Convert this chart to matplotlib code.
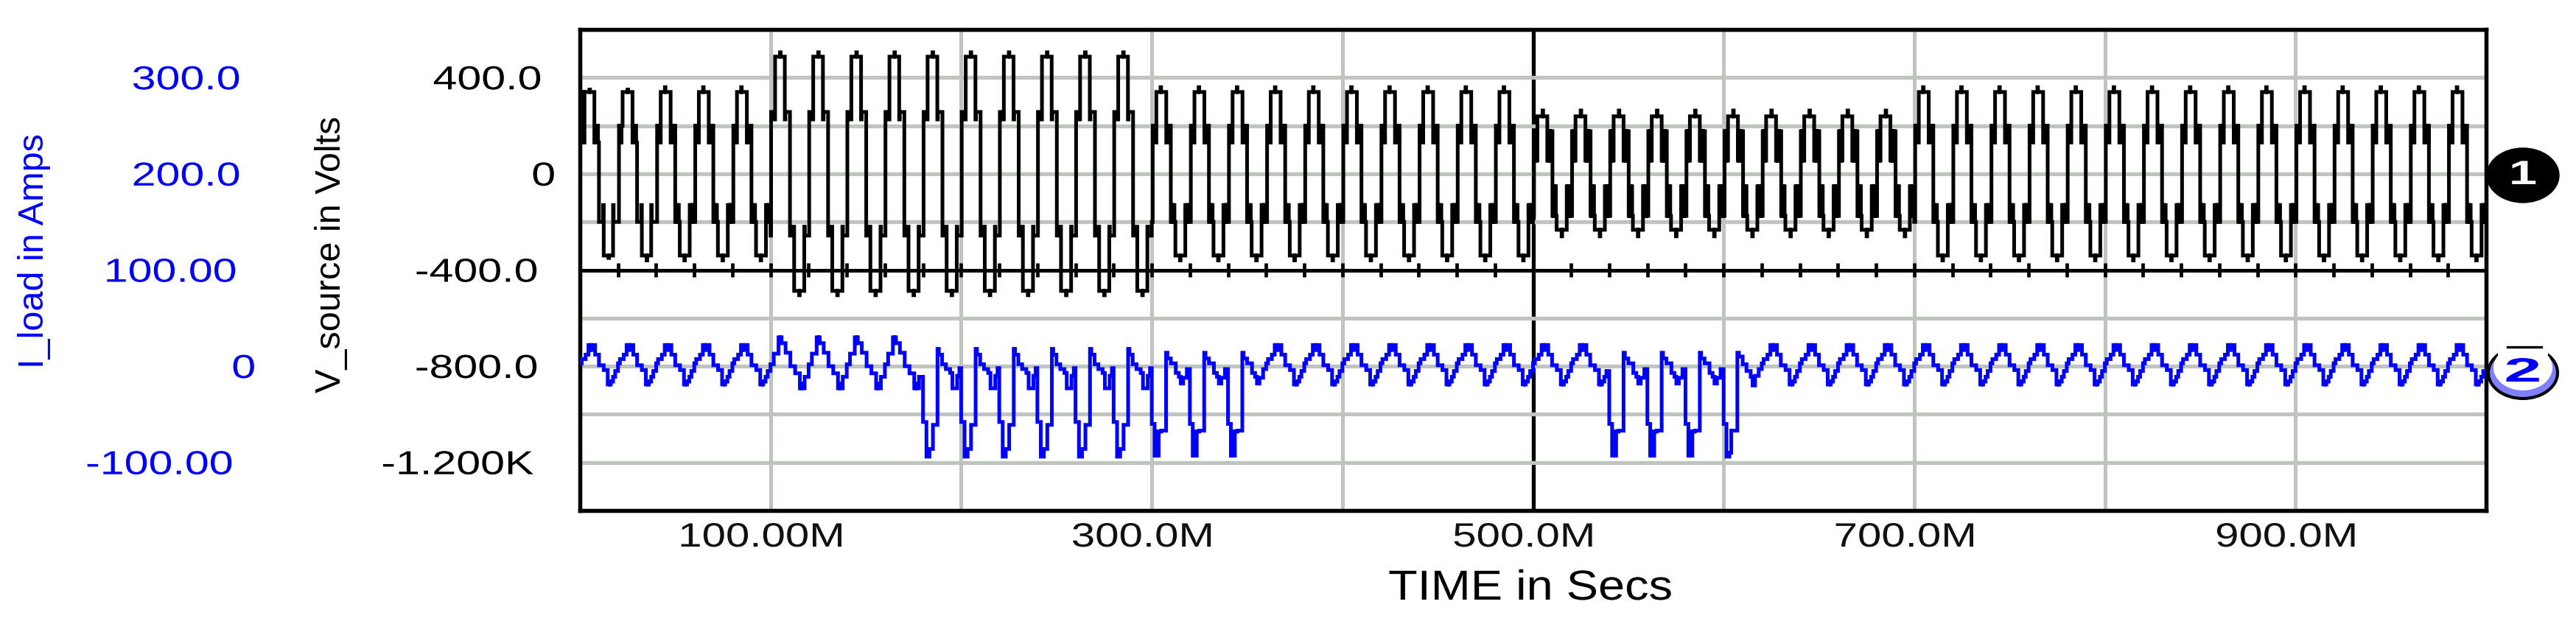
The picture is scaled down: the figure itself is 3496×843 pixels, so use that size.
import matplotlib
matplotlib.use('Agg')
import matplotlib.pyplot as plt
import matplotlib.patheffects as pe
import matplotlib.transforms as mtrans
from matplotlib.patches import Ellipse, Rectangle
import numpy as np

W, H = 3496, 843
plt.rcParams['font.family'] = ['Liberation Sans', 'DejaVu Sans']

### one mains cycle of each waveform (ms into the cycle) ###
v_normal_t = [0.0, 0.5, 0.9, 1.2, 1.5, 1.8, 2.1, 2.4, 4.6, 4.9, 7.6, 7.9, 8.2, 8.5, 8.8, 9.1, 9.4, 9.7, 10.0,
              10.4, 10.7, 11.0, 11.3, 11.6, 11.9, 12.4, 14.8, 15.1, 17.6, 17.9, 18.2, 18.5, 18.8, 19.1, 19.4, 19.7]
v_normal_v = [-200, 200, 130, 200, 130, 200, 130, 340, 360, 340, 130, 200, 130, 200, 130, 200, 130, 200, -200,
              -130, -200, -130, -200, -130, -200, -340, -360, -340, -130, -200, -130, -200, -130, -200, -130, -200]
v_thin_t = [0.0, 0.5, 0.9, 1.2, 1.5, 1.8, 2.4, 5.0, 5.3, 7.6, 7.9, 8.2, 8.5, 8.8, 9.1, 9.5, 10.0,
            12.2, 12.5, 15.0, 15.3, 17.4, 17.7]
v_thin_v = [-200, 200, 130, 200, 130, 200, 340, 350, 340, 130, 200, 130, 200, 130, 200, 130, -200,
            -130, -340, -360, -340, -130, -200]
v_start_t = [0.0, 0.5, 1.0, 1.5, 2.0, 2.4, 5.0, 5.3, 7.6, 7.9, 8.2, 8.5, 8.8, 9.1, 9.5, 10.0,
             12.2, 12.5, 15.0, 15.3, 17.4, 17.7]
v_start_v = [130, 340, 130, 340, 130, 340, 350, 340, 130, 200, 130, 200, 130, 200, 130, -200,
             -130, -340, -350, -340, -130, -200]
v_swell_t = [0.0, 0.3, 2.1, 2.4, 5.0, 5.3, 7.5, 7.8, 10.2, 12.1, 12.4, 15.0, 15.3, 17.7, 18.0]
v_swell_v = [-257, 257, 226, 487, 505, 487, 226, 257, -257, -220, -487, -505, -487, -220, -257]
v_sag_t = [0.0, 0.5, 0.8, 1.1, 1.4, 1.7, 2.0, 2.3, 5.0, 5.3, 7.5, 7.8, 8.1, 8.4, 8.7, 9.0, 9.3, 9.6, 10.2,
           10.5, 10.8, 11.1, 11.4, 11.7, 12.0, 12.4, 15.0, 15.3, 17.7, 18.0, 18.3, 18.6, 18.9, 19.2, 19.5]
v_sag_v = [-175, 177, 55, 177, 55, 177, 55, 239, 263, 239, 55, 177, 55, 177, 55, 177, 55, 177, -175,
           -52, -175, -52, -175, -52, -175, -233, -260, -233, -52, -175, -52, -175, -52, -175, -52]

i_normal_t = [0.0, 1.0, 3.0, 4.5, 5.2, 5.6, 6.0, 6.4, 8.0, 10.0, 12.5, 14.6, 15.4, 15.8, 16.2, 17.4, 18.5]
i_normal_v = [3, 7.4, 12, 22, 17, 22, 17, 22, 12, 1, -4, -19, -16, -19, -16, -11, -5]
i_swell_t = [0.0, 1.7, 4.2, 5.0, 5.4, 5.8, 7.9, 10.4, 12.9, 15.4, 16.2, 16.6, 17.9]
i_swell_v = [2, 13, 30, 24, 30, 24, 14, 0, -7.4, -23, -18, -23, -11]
i_fault_t = [0.0, 1.5, 1.8, 2.1, 2.4, 2.7, 3.0, 3.3, 3.6, 4.9, 7.5, 8.2, 10.0, 12.6, 14.2, 15.2, 15.8, 16.2, 16.5, 18.4]
i_fault_v = [-60, -93, -68, -93, -68, -93, -68, -93, -68, -67, 14, 8, 3, -7, -11, -18, -14, -18, -12, -3]
i_fault_thin_t = [0.0, 1.5, 3.0, 4.0, 7.2, 8.0, 10.0, 12.0, 14.2, 15.2, 16.5, 18.4]
i_fault_thin_v = [-60, -94, -90, -67, 14, 10, 2, -5, -11, -20, -10, -3]
i_fault_swell_t = [0.0, 1.8, 3.4, 5.2, 7.6, 8.3, 10.0, 12.0, 14.2, 15.4, 17.9, 19.1]
i_fault_swell_v = [-58, -94, -86, -61, 18, 12, 2, -3, -7, -23, -10, -2]

# which shape each of the 50 cycles has, 0..1000 in 20 ms steps
v_cycles = 'bt' + 'nnn' + 's' * 10 + 'n' * 10 + 'g' * 10 + 'n' * 15
i_cycles = 'a' * 5 + 's' * 4 + 'w' * 6 + 'fff' + 'a' * 9 + 'fff' + 'h' + 'a' * 19

v_shapes = {'n': (v_normal_t, v_normal_v), 't': (v_thin_t, v_thin_v), 'b': (v_start_t, v_start_v),
            's': (v_swell_t, v_swell_v), 'g': (v_sag_t, v_sag_v)}
i_shapes = {'a': (i_normal_t, i_normal_v), 's': (i_swell_t, i_swell_v), 'f': (i_fault_t, i_fault_v),
            'h': (i_fault_thin_t, i_fault_thin_v), 'w': (i_fault_swell_t, i_fault_swell_v)}

v_ticks = [400, 0, -400, -800, -1200]
v_tick_labels = ['400.0', '0', '-400.0', '-800.0', '-1.200K']
i_ticks = [300, 200, 100, 0, -100]
i_tick_labels = ['300.0', '200.0', '100.00', '0', '-100.00']
x_ticks = [100, 300, 500, 700, 900]
x_tick_labels = ['100.00M', '300.0M', '500.0M', '700.0M', '900.0M']

GRID = '#bfc5be'
BLUE = '#0000ff'
lw_frame = 3.8
lw_trace = 3.6


class Stretch(pe.AbstractPathEffect):
    # the original is a screenshot pulled out of shape, so its text is wider than tall
    def __init__(self, sx, sy=1.0):
        super().__init__()
        self.sx, self.sy = sx, sy
        self.anchor = (0, 0)

    def draw_path(self, renderer, gc, tpath, affine, rgbFace=None):
        x0, y0 = self.anchor
        a = affine + mtrans.Affine2D().translate(-x0, -y0).scale(self.sx, self.sy).translate(x0, y0)
        renderer.draw_path(gc, tpath, a, rgbFace)


def stretched(txt, x, y, sx, sy=1.0):
    # x, y are display pixels of the text's anchor point
    eff = Stretch(sx, sy)
    eff.anchor = (x, y)
    txt.set_path_effects([eff])
    return txt


def build(cycles, shapes, period=20):
    ts, vs = [], []
    for n, code in enumerate(cycles):
        t, v = shapes[code]
        ts.extend(n * period + np.array(t))
        vs.extend(v)
    ts.append(len(cycles) * period)
    vs.append(vs[-1])
    return ts, vs


fig = plt.figure(figsize=(W / 100, H / 100), dpi=100)
ax = fig.add_axes([787 / W, 1 - 693 / H, (3374 - 787) / W, (693 - 40) / H])
ax.set_xlim(0, 1000)
ax.set_ylim(-1400, 600)
ax.set_xticks([])
ax.set_yticks([])

# grid: verticals below, horizontals over them
for x in range(100, 1000, 100):
    ax.axvline(x, color='black' if x == 500 else GRID, lw=3.8 if x == 500 else 3.6, zorder=1)
for y in [400, 200, 0, -200, -600, -800, -1000, -1200]:
    ax.axhline(y, color=GRID, lw=3.8, zorder=1.5)

ax.axhline(-400, color='black', lw=3.6, zorder=2)
ax.vlines(np.arange(20, 1000, 20), -430, -370, color='black', lw=3.4, zorder=2)

vt, vv = build(v_cycles, v_shapes)
ax.step(vt, vv, where='post', color='black', lw=lw_trace, solid_joinstyle='miter', zorder=3)

ax2 = ax.twinx()
ax2.set_ylim(-150, 350)
ax2.set_yticks([])
it, iv = build(i_cycles, i_shapes)
ax2.step(it, iv, where='post', color=BLUE, lw=lw_trace, solid_joinstyle='miter', zorder=3)

for a in (ax, ax2):
    for s in a.spines.values():
        s.set_linewidth(lw_frame)

# tick labels sit at their own offsets in the original
tr_v = mtrans.blended_transform_factory(fig.transFigure, ax.transData)
tr_i = mtrans.blended_transform_factory(fig.transFigure, ax2.transData)
v_right = [735, 754, 730, 730, 724]
i_right = [326, 326, 321, 347, 316]
for y, s, r in zip(v_ticks, v_tick_labels, v_right):
    t = fig.text(r / W, y, s, transform=tr_v, ha='right', va='center_baseline', fontsize=32.5, color='black')
    stretched(t, r, tr_v.transform((0, y))[1], 1.31)
for y, s, r in zip(i_ticks, i_tick_labels, i_right):
    t = fig.text(r / W, y, s, transform=tr_i, ha='right', va='center_baseline', fontsize=32.5, color=BLUE)
    stretched(t, r, tr_i.transform((0, y))[1], 1.31)

tr_x = mtrans.blended_transform_factory(ax.transData, fig.transFigure)
for x, s in zip(x_ticks, x_tick_labels):
    t = fig.text(x - 4.7, 1 - 742 / H, s, transform=tr_x, ha='center', va='baseline', fontsize=33, color='#111111')
    stretched(t, tr_x.transform((x - 4.7, 0))[0], H - 742, 1.27)

t = fig.text(2077 / W, 1 - 814 / H, 'TIME in Secs', ha='center', va='baseline', fontsize=41, color='black')
stretched(t, 2077, H - 814, 1.14)
fig.text(47 / W, 1 - 341 / H, 'I_load in Amps', rotation=90, ha='center', va='center', fontsize=35, color=BLUE)
fig.text(450 / W, 1 - 345 / H, 'V_source in Volts', rotation=90, ha='center', va='center', fontsize=35, color='black')

# trace markers at the right edge
overlay = fig.add_axes([0, 0, 1, 1], facecolor='none')
overlay.set_xlim(0, W)
overlay.set_ylim(H, 0)
overlay.axis('off')
overlay.add_patch(Ellipse((3424, 238), 98, 74, fc='black', ec='black'))
t = overlay.text(3424, 238, '1', ha='center', va='center', fontsize=33, fontweight='bold', color='white')
stretched(t, 3424, H - 238, 1.5)
overlay.add_patch(Ellipse((3424, 506), 94, 70, fc='#8080ff', ec='black', lw=3))
overlay.add_patch(Ellipse((3424, 499), 80, 62, fc='white', ec='none'))
overlay.add_patch(Rectangle((3390, 466), 68, 16, fc='white', ec='none'))
overlay.plot([3403, 3449], [471, 471], color='black', lw=2.4)
t = overlay.text(3424, 506, '2', ha='center', va='center', fontsize=33, fontweight='bold', color=BLUE)
stretched(t, 3424, H - 506, 2.0)

fig.savefig('out.png', dpi=100)
